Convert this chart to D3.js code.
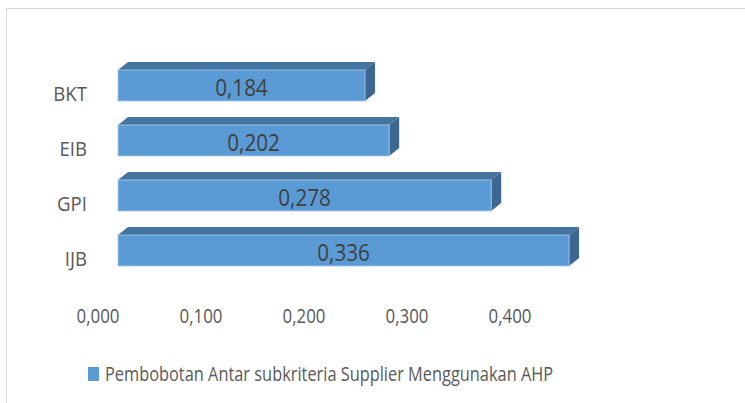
<!DOCTYPE html>
<html>
<head>
<meta charset="utf-8">
<script src="https://cdn.jsdelivr.net/npm/d3@7"></script>
<style>
  body { margin: 0; background: #fff; }
  svg text { font-family: "Open Sans", "Liberation Sans", sans-serif; }
</style>
</head>
<body>
<div id="chart"></div>
<script>
// data
var categories = ["BKT", "EIB", "GPI", "IJB"];
var values = [0.184, 0.202, 0.278, 0.336];
var tickValues = [0, 0.1, 0.2, 0.3, 0.4];
var seriesName = "Pembobotan Antar subkriteria Supplier Menggunakan AHP";

var width = 745, height = 403;
var depthX = 10, depthY = 8;

var svg = d3.select("#chart").append("svg")
    .attr("width", width)
    .attr("height", height);

// chart area border
svg.append("rect")
    .attr("x", 6.5).attr("y", 8.5)
    .attr("width", width + 10).attr("height", height + 10)
    .attr("fill", "none")
    .attr("stroke", "#d9d9d9");

var fmt = function(v) { return d3.format(".3f")(v).replace(".", ","); };

// text squeezed horizontally (original font is narrow)
function squeeze(sel, x, y, sx) {
    return sel.attr("x", 0).attr("y", 0)
        .attr("transform", function(d, i) {
            var px = typeof x === "function" ? x(d, i) : x;
            var py = typeof y === "function" ? y(d, i) : y;
            return "translate(" + px + "," + py + ") scale(" + sx + ",1)";
        });
}

// bars are on the 3d front plane, labels on the floor -> two scales
var xBar = d3.scaleLinear().domain([0, 0.4]).range([118, 655]);
var xAxis = d3.scaleLinear().domain([0, 0.4]).range([98, 510]);

var y = d3.scaleBand()
    .domain(categories)
    .range([58, 278])
    .paddingInner(0.436)
    .paddingOuter(0.218);

var data = categories.map(function(c, i) { return {cat: c, val: values[i]}; });

var bars = svg.selectAll("g.bar").data(data).enter()
    .append("g").attr("class", "bar");

// top face
bars.append("path")
    .attr("d", function(d) {
        var x0 = xBar(0), x1 = xBar(d.val), y0 = y(d.cat);
        return "M" + x0 + "," + y0 + "L" + (x0 + depthX) + "," + (y0 - depthY) +
            "L" + (x1 + depthX) + "," + (y0 - depthY) + "L" + x1 + "," + y0 + "Z";
    })
    .attr("fill", "#4674a0");

// side face
bars.append("path")
    .attr("d", function(d) {
        var x1 = xBar(d.val), y0 = y(d.cat), y1 = y0 + y.bandwidth();
        return "M" + x1 + "," + y0 + "L" + (x1 + depthX) + "," + (y0 - depthY) +
            "L" + (x1 + depthX) + "," + (y1 - depthY) + "L" + x1 + "," + y1 + "Z";
    })
    .attr("fill", "#3b6790");

// front face
bars.append("rect")
    .attr("x", xBar(0))
    .attr("y", function(d) { return y(d.cat); })
    .attr("width", function(d) { return xBar(d.val) - xBar(0); })
    .attr("height", y.bandwidth())
    .attr("fill", "#5b9bd5")
    .attr("stroke", "#a9c8e8")
    .attr("stroke-width", 0.8);

// value labels
squeeze(bars.append("text"),
        function(d) { return (xBar(0) + xBar(d.val)) / 2; },
        function(d) { return y(d.cat) + y.bandwidth() / 2 + 10; }, 0.88)
    .attr("text-anchor", "middle")
    .attr("font-size", 23.5)
    .attr("fill", "#404040")
    .text(function(d) { return fmt(d.val); });

// category labels
squeeze(svg.selectAll("text.cat").data(categories).enter()
        .append("text").attr("class", "cat"),
        87, function(d) { return y(d) + y.bandwidth() / 2 + 15; }, 0.95)
    .attr("text-anchor", "end")
    .attr("font-size", 19.6)
    .attr("fill", "#595959")
    .text(function(d) { return d; });

// value axis labels
squeeze(svg.selectAll("text.tick").data(tickValues).enter()
        .append("text").attr("class", "tick"),
        function(d) { return xAxis(d); }, 323, 0.86)
    .attr("text-anchor", "middle")
    .attr("font-size", 19.6)
    .attr("fill", "#595959")
    .text(function(d) { return fmt(d); });

// legend
svg.append("rect")
    .attr("x", 88).attr("y", 367)
    .attr("width", 11).attr("height", 14)
    .attr("fill", "#5b9bd5");
squeeze(svg.append("text"), 105, 381, 0.835)
    .attr("font-size", 19.6)
    .attr("fill", "#595959")
    .text(seriesName);
</script>
</body>
</html>
